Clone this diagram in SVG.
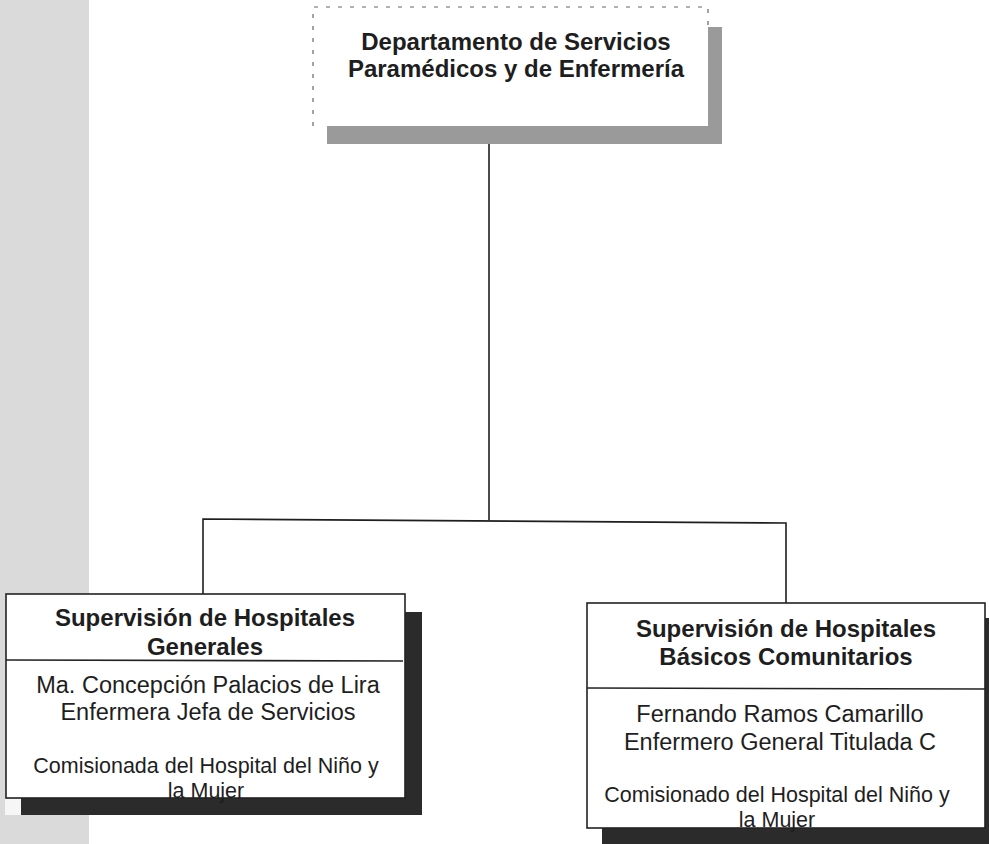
<svg xmlns="http://www.w3.org/2000/svg" width="989" height="844" viewBox="0 0 989 844">
  <style>
    .title { font-family: "Liberation Sans", Arial, sans-serif; font-weight: bold; font-size: 24px; fill: #1e1e1e; text-anchor: middle; }
    .name { font-family: "Liberation Sans", Arial, sans-serif; font-size: 23.5px; fill: #1e1e1e; text-anchor: middle; }
    .note { font-family: "Liberation Sans", Arial, sans-serif; font-size: 21.5px; fill: #1e1e1e; text-anchor: middle; }
    .box { fill: #ffffff; stroke: #222222; stroke-width: 1.6; }
    .shadow { fill: #2b2b2b; }
    .divider { stroke: #222222; stroke-width: 1.6; }
    .conn { fill: none; stroke: #1e1e1e; stroke-width: 1.6; }
    .dash { fill: none; stroke: #666666; stroke-width: 1.2; stroke-dasharray: 4,8; }
  </style>

  <rect x="0" y="0" width="989" height="844" fill="#ffffff"/>
  <rect x="0" y="0" width="89" height="844" fill="#dadada"/>
  <rect x="5" y="799" width="16" height="16" fill="#f6f6f6"/>

  <g id="connectors">
    <line class="conn" x1="489" y1="126" x2="489" y2="520"/>
    <polyline class="conn" points="203,594 203,519 786,523 786,603"/>
  </g>

  <g id="node-departamento">
    <rect x="327" y="27" width="395" height="117" fill="#9a9a9a"/>
    <rect x="313" y="7" width="395" height="119" fill="#ffffff"/>
    <polyline class="dash" points="313,126 313,7 708,7 708,27"/>
    <text class="title" x="516" y="50">Departamento de Servicios</text>
    <text class="title" x="516" y="77">Paramédicos y de Enfermería</text>
  </g>

  <g id="node-generales">
    <rect class="shadow" x="21" y="612" width="401" height="203"/>
    <rect class="box" x="6" y="594" width="399" height="204"/>
    <line class="divider" x1="6" y1="660" x2="403" y2="661"/>
    <text class="title" x="205" y="626">Supervisión de Hospitales</text>
    <text class="title" x="205" y="655">Generales</text>
    <text class="name" x="208" y="693">Ma. Concepción Palacios de Lira</text>
    <text class="name" x="208" y="720">Enfermera Jefa de Servicios</text>
    <text class="note" x="206" y="773">Comisionada del Hospital del Niño y</text>
    <text class="note" x="206" y="798">la Mujer</text>
  </g>

  <g id="node-basicos">
    <rect class="shadow" x="602" y="618" width="400" height="230"/>
    <rect class="box" x="587" y="603" width="398" height="225"/>
    <line class="divider" x1="587" y1="688" x2="985" y2="689"/>
    <text class="title" x="786" y="637">Supervisión de Hospitales</text>
    <text class="title" x="786" y="665">Básicos Comunitarios</text>
    <text class="name" x="780" y="722">Fernando Ramos Camarillo</text>
    <text class="name" x="780" y="750">Enfermero General Titulada C</text>
    <text class="note" x="777" y="802">Comisionado del Hospital del Niño y</text>
    <text class="note" x="777" y="827">la Mujer</text>
  </g>
</svg>
